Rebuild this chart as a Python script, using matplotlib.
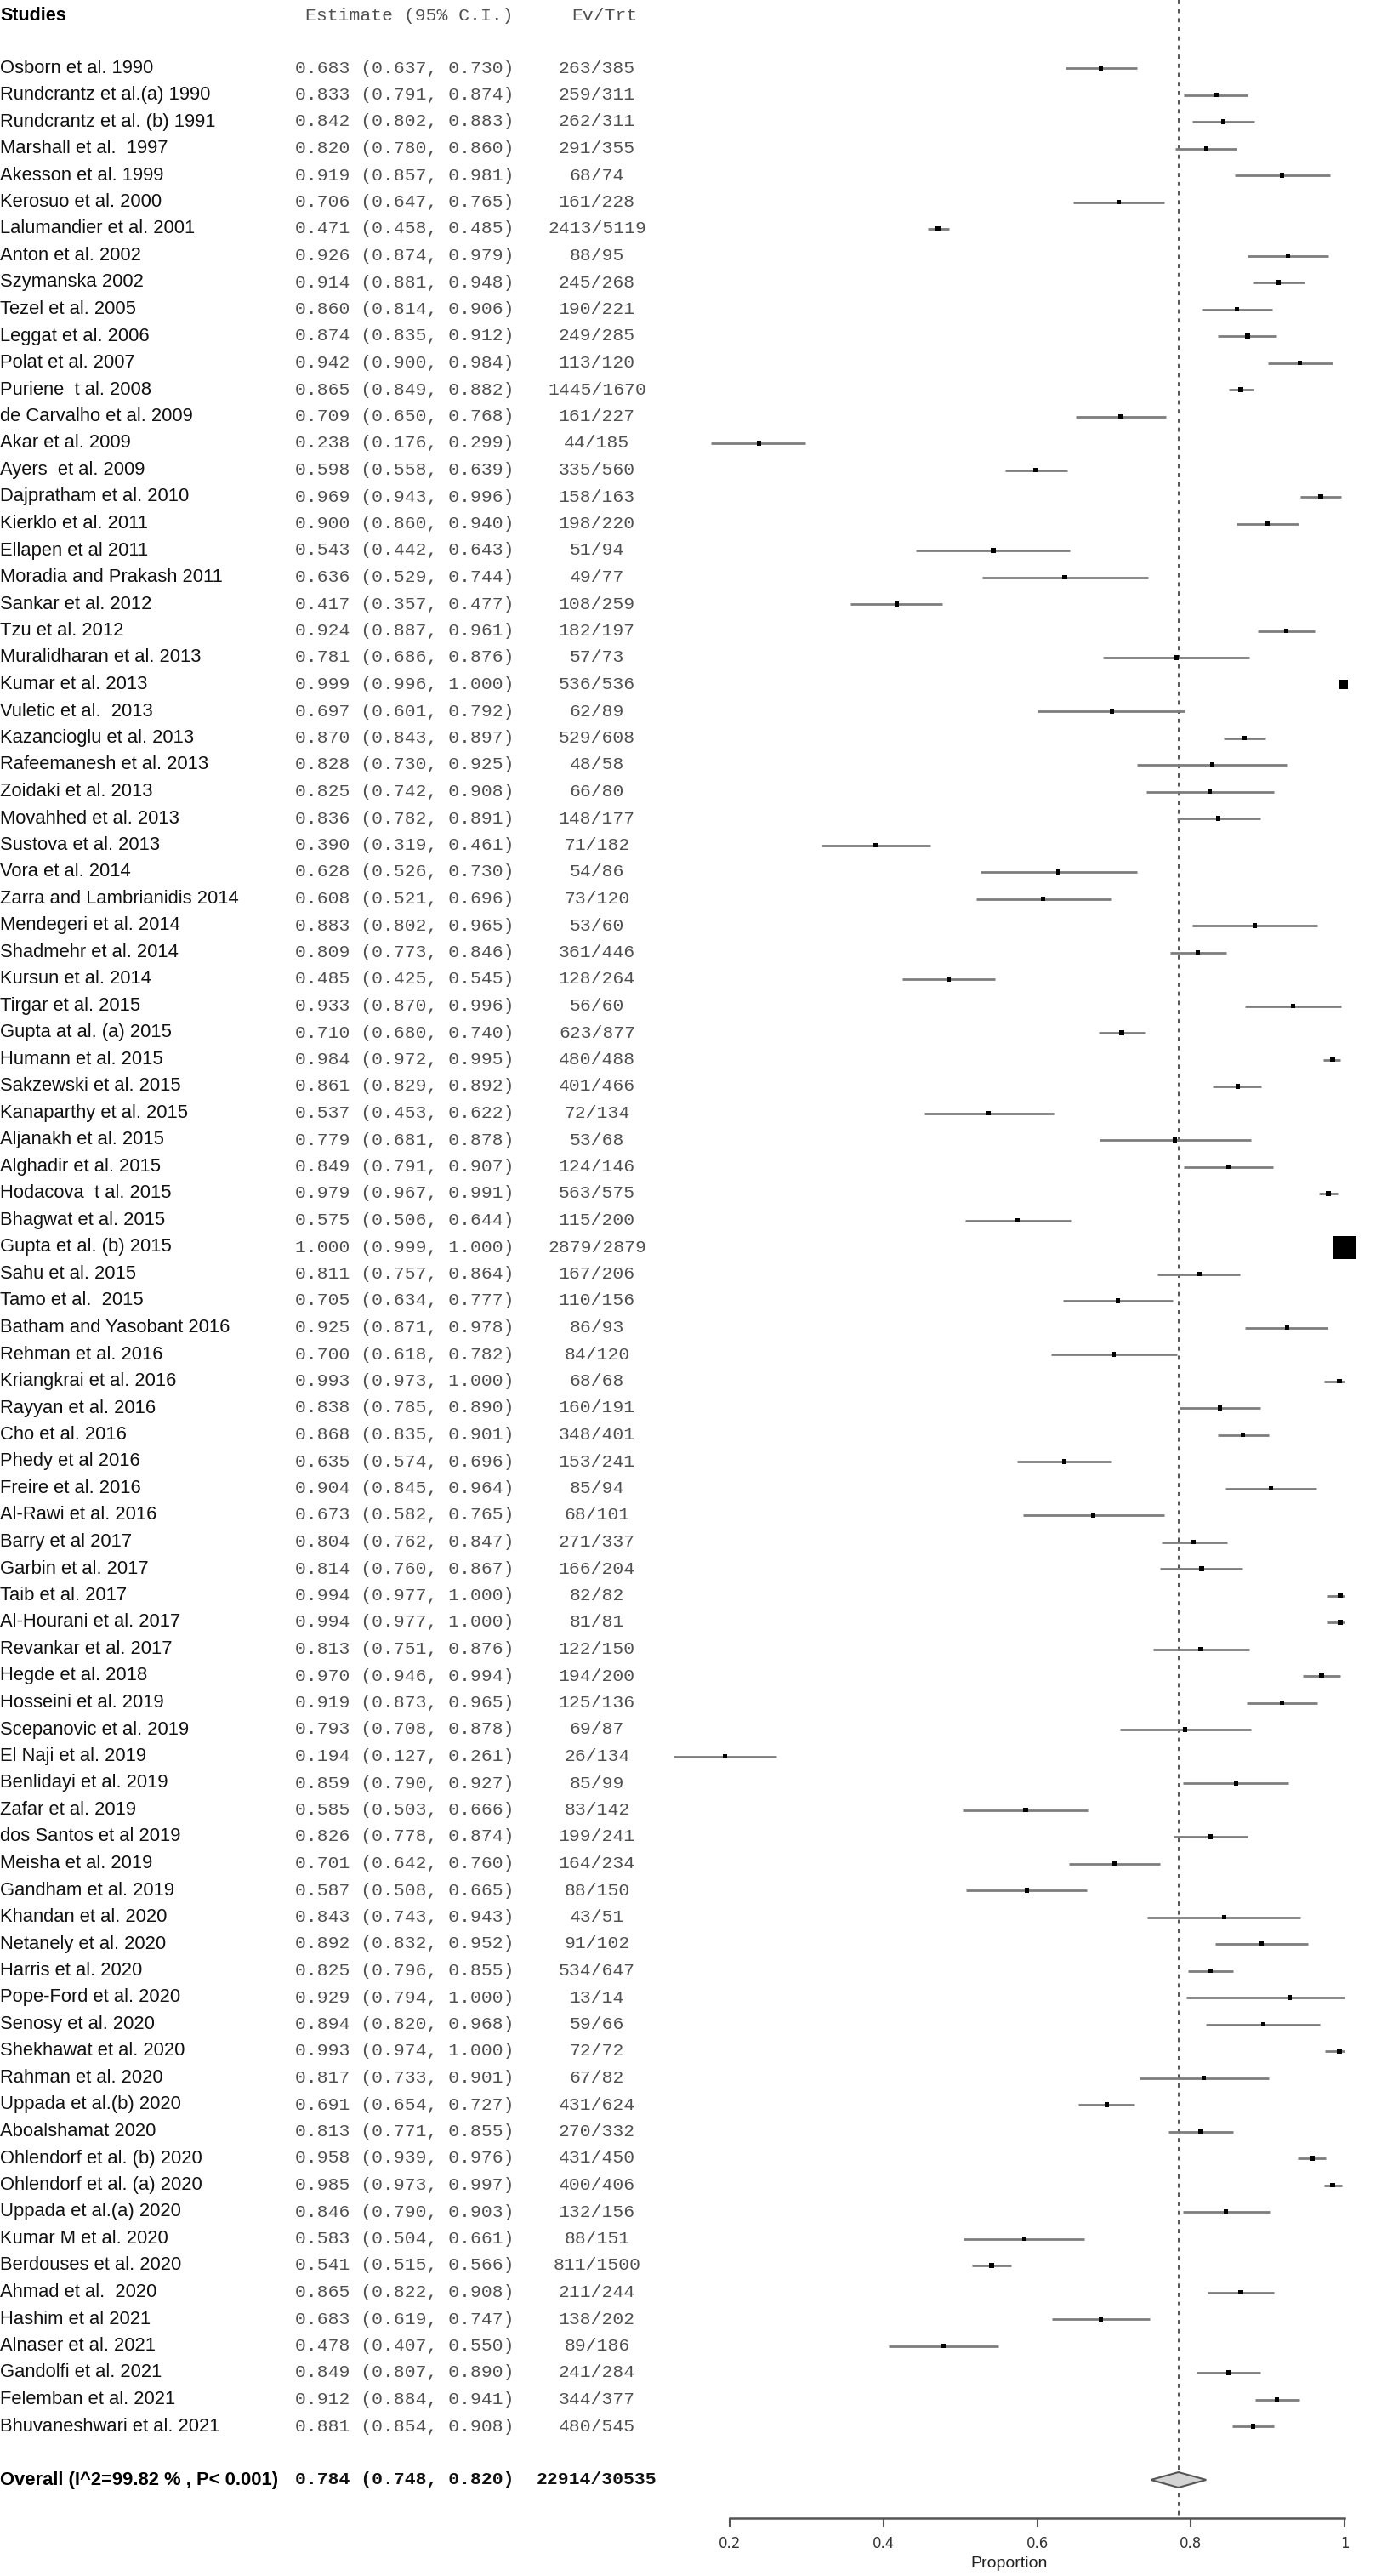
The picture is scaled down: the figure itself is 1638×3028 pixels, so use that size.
import numpy as np
import matplotlib
matplotlib.use("Agg")
import matplotlib.pyplot as plt
from matplotlib.patches import Polygon

studies = [
    "Osborn et al. 1990", "Rundcrantz et al.(a) 1990", "Rundcrantz et al. (b) 1991",
    "Marshall et al.  1997", "Akesson et al. 1999", "Kerosuo et al. 2000",
    "Lalumandier et al. 2001", "Anton et al. 2002", "Szymanska 2002", "Tezel et al. 2005",
    "Leggat et al. 2006", "Polat et al. 2007", "Puriene  t al. 2008", "de Carvalho et al. 2009",
    "Akar et al. 2009", "Ayers  et al. 2009", "Dajpratham et al. 2010", "Kierklo et al. 2011",
    "Ellapen et al 2011", "Moradia and Prakash 2011", "Sankar et al. 2012", "Tzu et al. 2012",
    "Muralidharan et al. 2013", "Kumar et al. 2013", "Vuletic et al.  2013",
    "Kazancioglu et al. 2013", "Rafeemanesh et al. 2013", "Zoidaki et al. 2013",
    "Movahhed et al. 2013", "Sustova et al. 2013", "Vora et al. 2014",
    "Zarra and Lambrianidis 2014", "Mendegeri et al. 2014", "Shadmehr et al. 2014",
    "Kursun et al. 2014", "Tirgar et al. 2015", "Gupta at al. (a) 2015", "Humann et al. 2015",
    "Sakzewski et al. 2015", "Kanaparthy et al. 2015", "Aljanakh et al. 2015",
    "Alghadir et al. 2015", "Hodacova  t al. 2015", "Bhagwat et al. 2015",
    "Gupta et al. (b) 2015", "Sahu et al. 2015", "Tamo et al.  2015", "Batham and Yasobant 2016",
    "Rehman et al. 2016", "Kriangkrai et al. 2016", "Rayyan et al. 2016", "Cho et al. 2016",
    "Phedy et al 2016", "Freire et al. 2016", "Al-Rawi et al. 2016", "Barry et al 2017",
    "Garbin et al. 2017", "Taib et al. 2017", "Al-Hourani et al. 2017", "Revankar et al. 2017",
    "Hegde et al. 2018", "Hosseini et al. 2019", "Scepanovic et al. 2019", "El Naji et al. 2019",
    "Benlidayi et al. 2019", "Zafar et al. 2019", "dos Santos et al 2019", "Meisha et al. 2019",
    "Gandham et al. 2019", "Khandan et al. 2020", "Netanely et al. 2020", "Harris et al. 2020",
    "Pope-Ford et al. 2020", "Senosy et al. 2020", "Shekhawat et al. 2020", "Rahman et al. 2020",
    "Uppada et al.(b) 2020", "Aboalshamat 2020", "Ohlendorf et al. (b) 2020",
    "Ohlendorf et al. (a) 2020", "Uppada et al.(a) 2020", "Kumar M et al. 2020",
    "Berdouses et al. 2020", "Ahmad et al.  2020", "Hashim et al 2021", "Alnaser et al. 2021",
    "Gandolfi et al. 2021", "Felemban et al. 2021", "Bhuvaneshwari et al. 2021",
]

est = [0.683, 0.833, 0.842, 0.820, 0.919, 0.706, 0.471, 0.926, 0.914, 0.860,
       0.874, 0.942, 0.865, 0.709, 0.238, 0.598, 0.969, 0.900, 0.543, 0.636,
       0.417, 0.924, 0.781, 0.999, 0.697, 0.870, 0.828, 0.825, 0.836, 0.390,
       0.628, 0.608, 0.883, 0.809, 0.485, 0.933, 0.710, 0.984, 0.861, 0.537,
       0.779, 0.849, 0.979, 0.575, 1.000, 0.811, 0.705, 0.925, 0.700, 0.993,
       0.838, 0.868, 0.635, 0.904, 0.673, 0.804, 0.814, 0.994, 0.994, 0.813,
       0.970, 0.919, 0.793, 0.194, 0.859, 0.585, 0.826, 0.701, 0.587, 0.843,
       0.892, 0.825, 0.929, 0.894, 0.993, 0.817, 0.691, 0.813, 0.958, 0.985,
       0.846, 0.583, 0.541, 0.865, 0.683, 0.478, 0.849, 0.912, 0.881]

lower = [0.637, 0.791, 0.802, 0.780, 0.857, 0.647, 0.458, 0.874, 0.881, 0.814,
         0.835, 0.900, 0.849, 0.650, 0.176, 0.558, 0.943, 0.860, 0.442, 0.529,
         0.357, 0.887, 0.686, 0.996, 0.601, 0.843, 0.730, 0.742, 0.782, 0.319,
         0.526, 0.521, 0.802, 0.773, 0.425, 0.870, 0.680, 0.972, 0.829, 0.453,
         0.681, 0.791, 0.967, 0.506, 0.999, 0.757, 0.634, 0.871, 0.618, 0.973,
         0.785, 0.835, 0.574, 0.845, 0.582, 0.762, 0.760, 0.977, 0.977, 0.751,
         0.946, 0.873, 0.708, 0.127, 0.790, 0.503, 0.778, 0.642, 0.508, 0.743,
         0.832, 0.796, 0.794, 0.820, 0.974, 0.733, 0.654, 0.771, 0.939, 0.973,
         0.790, 0.504, 0.515, 0.822, 0.619, 0.407, 0.807, 0.884, 0.854]

upper = [0.730, 0.874, 0.883, 0.860, 0.981, 0.765, 0.485, 0.979, 0.948, 0.906,
         0.912, 0.984, 0.882, 0.768, 0.299, 0.639, 0.996, 0.940, 0.643, 0.744,
         0.477, 0.961, 0.876, 1.000, 0.792, 0.897, 0.925, 0.908, 0.891, 0.461,
         0.730, 0.696, 0.965, 0.846, 0.545, 0.996, 0.740, 0.995, 0.892, 0.622,
         0.878, 0.907, 0.991, 0.644, 1.000, 0.864, 0.777, 0.978, 0.782, 1.000,
         0.890, 0.901, 0.696, 0.964, 0.765, 0.847, 0.867, 1.000, 1.000, 0.876,
         0.994, 0.965, 0.878, 0.261, 0.927, 0.666, 0.874, 0.760, 0.665, 0.943,
         0.952, 0.855, 1.000, 0.968, 1.000, 0.901, 0.727, 0.855, 0.976, 0.997,
         0.903, 0.661, 0.566, 0.908, 0.747, 0.550, 0.890, 0.941, 0.908]

ev_trt = ["263/385", "259/311", "262/311", "291/355", "68/74", "161/228", "2413/5119",
          "88/95", "245/268", "190/221", "249/285", "113/120", "1445/1670", "161/227",
          "44/185", "335/560", "158/163", "198/220", "51/94", "49/77", "108/259",
          "182/197", "57/73", "536/536", "62/89", "529/608", "48/58", "66/80", "148/177",
          "71/182", "54/86", "73/120", "53/60", "361/446", "128/264", "56/60", "623/877",
          "480/488", "401/466", "72/134", "53/68", "124/146", "563/575", "115/200",
          "2879/2879", "167/206", "110/156", "86/93", "84/120", "68/68", "160/191",
          "348/401", "153/241", "85/94", "68/101", "271/337", "166/204", "82/82", "81/81",
          "122/150", "194/200", "125/136", "69/87", "26/134", "85/99", "83/142", "199/241",
          "164/234", "88/150", "43/51", "91/102", "534/647", "13/14", "59/66", "72/72",
          "67/82", "431/624", "270/332", "431/450", "400/406", "132/156", "88/151",
          "811/1500", "211/244", "138/202", "89/186", "241/284", "344/377", "480/545"]

overall_label = "Overall (I^2=99.82 % , P< 0.001)"
overall_est, overall_lo, overall_hi = 0.784, 0.748, 0.820
overall_ev = "22914/30535"

xticks = [0.2, 0.4, 0.6, 0.8, 1.0]
xticklabels = ["0.2", "0.4", "0.6", "0.8", "1"]

# layout (pixels)
W, H = 1638, 3028
row0, row_h = 80, 31.5
px_02, px_10 = 858, 1581
slope = (px_10 - px_02) / 0.8
x_left = 0.2 - px_02 / slope
x_right = 0.2 + (W - px_02) / slope

fig = plt.figure(figsize=(W / 100, H / 100), dpi=100)
fig.patch.set_facecolor("white")

txt = fig.add_axes([0, 0, 1, 1])
txt.set_xlim(0, W)
txt.set_ylim(H, 0)
txt.axis("off")

ax = fig.add_axes([0, 0, 1, 1], facecolor="none")
ax.set_xlim(x_left, x_right)
ax.set_ylim(H, 0)

n = len(studies)
ys = row0 + np.arange(n) * row_h
y_overall = row0 + (n + 1) * row_h
y_axis = 2960

sans = "Liberation Sans"
mono = "Liberation Mono"

# header
txt.text(0, 18, "Studies", fontsize=15.5, fontweight="bold", family=sans, va="center")
txt.text(604, 18, "Estimate (95% C.I.)", fontsize=15.4, family=mono, color="#505050",
         va="center", ha="right")
txt.text(711, 18, "Ev/Trt", fontsize=15.4, family=mono, color="#505050",
         va="center", ha="center")

for i in range(n):
    y = ys[i]
    txt.text(0, y, studies[i], fontsize=15.8, family=sans, color="#111111", va="center")
    txt.text(347, y, "%.3f (%.3f, %.3f)" % (est[i], lower[i], upper[i]),
             fontsize=15.4, family=mono, color="#505050", va="center")
    txt.text(702, y, ev_trt[i], fontsize=15.4, family=mono, color="#505050",
             va="center", ha="center")

txt.text(0, y_overall, overall_label, fontsize=15.8, fontweight="bold", family=sans,
         va="center")
txt.text(347, y_overall, "%.3f (%.3f, %.3f)" % (overall_est, overall_lo, overall_hi),
         fontsize=15.4, fontweight="bold", family=mono, color="#111111", va="center")
txt.text(702, y_overall, overall_ev, fontsize=15.4, fontweight="bold", family=mono,
         color="#111111", va="center", ha="center")

# confidence intervals and point estimates (box size from CI width)
est_a = np.array(est)
lo_a = np.array(lower)
hi_a = np.array(upper)
ax.hlines(ys, lo_a, hi_a, color="#7d7d7d", lw=2.0, zorder=2)
width = np.maximum(hi_a - lo_a, 0.001)
side_px = 5.0 + 0.022 / width
ax.scatter(est_a, ys, marker="s", s=(side_px * 0.72) ** 2, color="black",
           linewidths=0, zorder=3)

# summary line and diamond
ax.vlines(overall_est, 0, y_axis, color="#555555", lw=1.4, linestyles=(0, (2.5, 3)),
          zorder=1)
dh = 9
diamond = Polygon([[overall_lo, y_overall], [overall_est, y_overall - dh],
                   [overall_hi, y_overall], [overall_est, y_overall + dh]],
                  closed=True, facecolor="#d4d4d4", edgecolor="#555555", lw=1.5, zorder=3)
ax.add_patch(diamond)

# x axis
for s in ["top", "left", "right"]:
    ax.spines[s].set_visible(False)
ax.spines["bottom"].set_position(("data", y_axis))
ax.spines["bottom"].set_bounds(0.2, 1.0)
ax.spines["bottom"].set_color("#555555")
ax.spines["bottom"].set_linewidth(1.8)
ax.set_xticks(xticks)
ax.set_xticklabels(xticklabels)
ax.tick_params(axis="x", direction="out", length=7, width=1.5, color="#555555",
               labelsize=12, labelcolor="#333333", pad=8)
ax.set_yticks([])

txt.text(1187, 3013, "Proportion", fontsize=14, family=sans, color="#222222",
         ha="center", va="center")

fig.savefig("out.png", dpi=100, facecolor="white")
